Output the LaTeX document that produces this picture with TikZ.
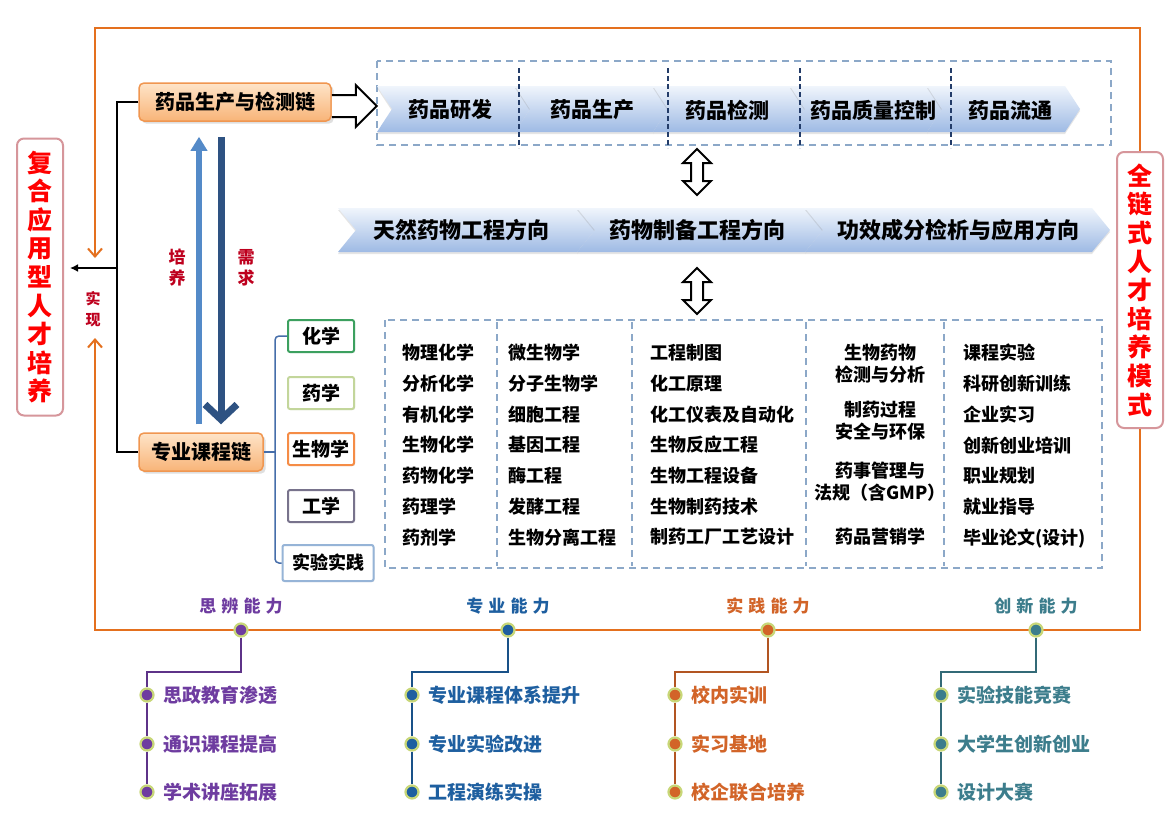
\documentclass[tikz,border=0pt]{standalone}
\usepackage{fontspec}
\setmainfont{Noto Sans CJK SC}
\usepackage{tikz}
\usetikzlibrary{arrows.meta,shapes.arrows,shadows}

\definecolor{frameorg}{RGB}{228,112,30}
\definecolor{chevtop}{RGB}{240,245,252}
\definecolor{chevbot}{RGB}{158,186,228}
\definecolor{dashblue}{RGB}{140,168,200}
\definecolor{navyline}{RGB}{35,60,105}
\definecolor{lblue}{RGB}{84,138,200}
\definecolor{dblue}{RGB}{46,82,130}
\definecolor{labred}{RGB}{190,0,30}
\definecolor{pinkbd}{RGB}{214,150,155}
\definecolor{chainbd}{RGB}{240,150,80}
\definecolor{chaintop}{RGB}{254,228,200}
\definecolor{chainbot}{RGB}{248,180,120}
\definecolor{subgreen}{RGB}{60,160,95}
\definecolor{subolive}{RGB}{195,214,155}
\definecolor{suborg}{RGB}{245,140,70}
\definecolor{subgray}{RGB}{120,115,140}
\definecolor{subblue}{RGB}{150,180,215}
\definecolor{brkblue}{RGB}{70,110,170}
\definecolor{glow}{RGB}{200,215,120}
\definecolor{purp}{RGB}{110,60,160}
\definecolor{blu}{RGB}{30,95,160}
\definecolor{orn}{RGB}{210,100,40}
\definecolor{tea}{RGB}{60,125,140}

\begin{document}
\begin{tikzpicture}[x=1pt,y=-1pt,
    chev/.style={top color=chevtop,bottom color=chevbot,drop shadow={shadow xshift=0pt,shadow yshift=-2pt,opacity=0.2}},
    chevtxt/.style={font=\fontsize{21}{24}\selectfont\bfseries},
    chainbox/.style={draw=chainbd,line width=1.5pt,rounded corners=5pt,top color=chaintop,bottom color=chainbot,minimum height=38pt,font=\fontsize{20}{24}\selectfont\bfseries,drop shadow={opacity=0.25}},
    modelbox/.style={draw=pinkbd,line width=2pt,rounded corners=7pt,fill=white,align=center,text=red,minimum width=46pt,font=\fontsize{25}{28.6}\selectfont\bfseries},
    subj/.style={draw=#1,line width=2pt,rounded corners=2pt,fill=white,minimum width=66pt,minimum height=32pt,font=\fontsize{19}{22}\selectfont\bfseries,drop shadow={opacity=0.2,shadow xshift=1pt,shadow yshift=-1pt}},
    orgframe/.style={frameorg,line width=2pt},
    dashbox/.style={dashblue,dash pattern=on 7pt off 5pt,line width=1.5pt},
    coltxt/.style={align=left,font=\fontsize{18}{30.7}\selectfont\bfseries,inner sep=0pt},
    twoline/.style={align=center,font=\fontsize{18}{22}\selectfont\bfseries,inner sep=0pt},
    dblarr/.style={double arrow,draw=black,line width=2pt,fill=white,rotate=90,inner sep=5pt,minimum height=46pt,double arrow head extend=8pt},
    gdot/.style={circle,fill=#1,draw=glow,line width=2.2pt,minimum size=13pt,inner sep=0pt},
    redtxt/.style={text=labred,align=center,font=\fontsize{16}{21}\selectfont\bfseries},
    ablab/.style={font=\fontsize{17}{20}\selectfont\bfseries\addfontfeatures{LetterSpace=30}},
    itemtxt/.style={font=\fontsize{19}{22}\selectfont\bfseries,anchor=west,inner sep=0pt}
  ]
  \useasboundingbox[fill=white] (0,0) rectangle (1176,830);

  \node[modelbox,minimum height=277pt] (lbox) at (40,277) {复\\合\\应\\用\\型\\人\\才\\培\\养};
  \node[modelbox,minimum height=276pt] (rbox) at (1140,290) {全\\链\\式\\人\\才\\培\\养\\模\\式};
  \draw[orgframe,-{Straight Barb[length=8pt,width=14pt]}] (rbox.north) |- (95,28) -- (95,258);
  \draw[orgframe,-{Straight Barb[length=8pt,width=14pt]}] (rbox.south) |- (95,630) -- (95,338);

  \node[chainbox,minimum width=192pt] (prod) at (235,102) {药品生产与检测链};
  \node[chainbox,minimum width=124pt] (course) at (201,452) {专业课程链};
  \draw[line width=1.8pt] (prod.west) -- ++(-21,0) |- (course.west);
  \coordinate (jn) at (118,268);
  \draw[line width=1.8pt,-{Latex[length=8pt,width=8pt]},shorten >=6pt] (jn) -- (lbox.east |- jn);
  \node[redtxt,font=\fontsize{15}{21}\selectfont\bfseries] (shx) at (93,309) {实\\现};
  \draw[line width=2pt,fill=white] (prod.east) ++(0,-7) -- ++(24,0) -- ++(0,-10) -- ++(21,21) -- ++(-21,21) -- ++(0,-10) -- ++(-24,0);

  \draw[line width=6pt,lblue,-{Triangle[width=16pt,length=14pt]},shorten <=8pt,shorten >=15pt] ([xshift=-2pt]course.north) -- ([xshift=-36pt]prod.south);
  \draw[line width=7pt,dblue,-{Straight Barb[width=32pt,length=15pt]},shorten <=15pt,shorten >=8pt] ([xshift=-14pt]prod.south) -- ([xshift=20pt]course.north);
  \node[redtxt,font=\fontsize{17}{21}\selectfont\bfseries] (py) at (177,268) {培\\养};
  \node[redtxt,font=\fontsize{17}{21}\selectfont\bfseries] (xq) at (246,268) {需\\求};

  \draw[dashbox] (377,61) rectangle (1111,145);
  \foreach \l/\r in {377/530,515/668,653/805,790/942,927/1080}
    \path[chev] (\l,86) -- (\r-15,86) -- (\r,109) -- (\r-15,132) -- (\l,132) -- (\l+15,109) -- cycle;
  \foreach \x in {519,668,800,951}
    \draw[navyline,dash pattern=on 5pt off 3pt,line width=1.5pt] (\x,68) -- (\x,148);
  \foreach \x/\t [count=\i] in {450/药品研发,592/药品生产,727/药品检测,873/药品质量控制,1010/药品流通}
    \node[chevtxt] (st\i) at (\x,110) {\t};

  \node[dblarr] (da1) at (697,172) {};
  \foreach \l/\r in {338/595,577/823,805/1110}
    \path[chev] (\l,208) -- (\r-18,208) -- (\r,230) -- (\r-18,252) -- (\l,252) -- (\l+18,230) -- cycle;
  \foreach \x/\t [count=\i] in {461/天然药物工程方向,697/药物制备工程方向,958/功效成分检析与应用方向}
    \node[chevtxt,font=\fontsize{22}{24}\selectfont\bfseries] (dir\i) at (\x,230) {\t};
  \node[dblarr] (da2) at (697,291) {};

  \node[subj=subgreen] (hx) at (321,336) {化学};
  \node[subj=subolive] (yx) at (321,393) {药学};
  \node[subj=suborg] (swx) at (321,449) {生物学};
  \node[subj=subgray] (gx) at (321,506) {工学};
  \node[subj=subblue,minimum width=91pt,minimum height=36pt,font=\fontsize{18}{22}\selectfont\bfseries] (sysj) at (328,563) {实验实践};
  \draw[brkblue,line width=1.5pt,rounded corners=4pt] (hx.west) -| (275,563) -- (sysj.west);
  \draw[brkblue,line width=1.5pt] (course.east) -- (275,452);

  \draw[dashbox] (385,320) rectangle (1102,568);
  \foreach \x in {497,632,806,944}
    \draw[dashbox] (\x,322) -- (\x,566);
  \node[coltxt,anchor=west] (col1) at (402,445) {物理化学\\分析化学\\有机化学\\生物化学\\药物化学\\药理学\\药剂学};
  \node[coltxt,anchor=west] (col2) at (508,445) {微生物学\\分子生物学\\细胞工程\\基因工程\\酶工程\\发酵工程\\生物分离工程};
  \node[coltxt,anchor=west] (col3) at (650,445) {工程制图\\化工原理\\化工仪表及自动化\\生物反应工程\\生物工程设备\\生物制药技术\\制药工厂工艺设计};
  \node[twoline] (c41) at (880,364) {生物药物\\检测与分析};
  \node[twoline] (c42) at (880,421) {制药过程\\安全与环保};
  \node[twoline] (c43) at (880,482) {药事管理与\\法规（含GMP）};
  \node[twoline] (c44) at (880,537) {药品营销学};
  \node[coltxt,anchor=west] (col5) at (963,446) {课程实验\\科研创新训练\\企业实习\\创新创业培训\\职业规划\\就业指导\\毕业论文(设计)};

  \foreach \x/\xs/\col/\lab/\one/\two/\three [count=\i] in {241/147/purp/思辨能力/思政教育渗透/通识课程提高/学术讲座拓展,508/412/blu/专业能力/专业课程体系提升/专业实验改进/工程演练实操,768/675/orn/实践能力/校内实训/实习基地/校企联合培养,1036/941/tea/创新能力/实验技能竞赛/大学生创新创业/设计大赛}{
    \node[ablab,text=\col] (ab\i) at (\x,606) {\lab};
    \node[gdot=\col] (top\i) at (\x,630) {};
    \foreach \y/\t [count=\j] in {695/\one,744/\two,792/\three}{
      \node[gdot=\col] (it\i\j) at (\xs,\y) {};
      \node[itemtxt,text=\col] (tx\i\j) at (\xs+16,\y) {\t};
    }
    \draw[\col!85!black,line width=1.6pt] (top\i) -- (\x,672) -| (it\i1);
    \draw[\col!85!black,line width=1.6pt] (it\i1) -- (it\i2);
    \draw[\col!85!black,line width=1.6pt] (it\i2) -- (it\i3);
  }
\end{tikzpicture}
\end{document}
